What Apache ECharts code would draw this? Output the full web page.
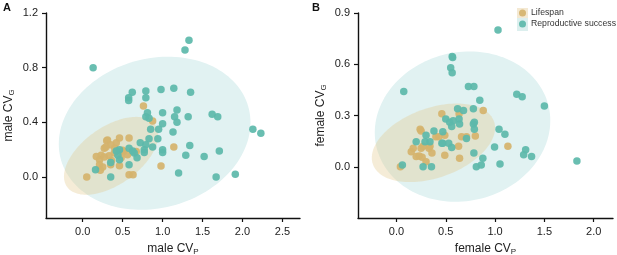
<!DOCTYPE html>
<html><head><meta charset="utf-8">
<script src="https://cdn.jsdelivr.net/npm/echarts@6/dist/echarts.min.js"></script>
<style>html,body{margin:0;padding:0;background:#fff}#c{width:617px;height:255px}</style>
</head><body><div id="c"></div>
<script>
// ---- data ----
const seriesNames = ['Lifespan', 'Reproductive success'];
const xTicksA = [0, 0.5, 1, 1.5, 2, 2.5];
const yTicksA = [0, 0.4, 0.8, 1.2];
const xTicksB = [0, 0.5, 1, 1.5, 2];
const yTicksB = [0, 0.3, 0.6, 0.9];

const maleLifespan = [
  [0.05,0.0],[0.31,0.27],[0.42,0.25],[0.46,0.285],[0.58,0.285],[0.30,0.265],[0.35,0.236],
  [0.27,0.21],[0.29,0.22],[0.23,0.16],[0.21,0.127],[0.27,0.146],[0.21,0.09],[0.33,0.156],
  [0.395,0.175],[0.51,0.187],[0.56,0.163],[0.50,0.195],[0.48,0.14],[0.46,0.083],[0.35,0.09],
  [0.25,0.073],[0.22,0.05],[0.17,0.15],[0.58,0.017],[0.63,0.017],[0.67,0.187],[0.76,0.52],
  [0.875,0.41],[1.14,0.22],[0.98,0.08],[0.36,0.12],[0.40,0.21]
];
const maleRepro = [
  [0.13,0.80],[1.33,1.0],[1.28,0.93],[1.14,0.65],[1.35,0.62],[0.98,0.64],[0.79,0.63],
  [0.62,0.62],[0.575,0.58],[0.575,0.56],[0.79,0.58],[1.18,0.49],[1.15,0.44],[1.18,0.40],
  [1.32,0.44],[1.62,0.46],[1.69,0.44],[2.13,0.35],[2.23,0.32],[1.0,0.47],[0.81,0.47],
  [0.79,0.44],[0.83,0.43],[1.0,0.39],[0.95,0.35],[0.85,0.35],[1.13,0.33],[0.94,0.28],
  [0.83,0.28],[0.72,0.25],[1.34,0.23],[1.29,0.16],[1.52,0.15],[1.71,0.19],[1.2,0.03],
  [1.67,0.0],[1.91,0.02],[1.0,0.2],[1.0,0.18],[0.875,0.22],[0.79,0.236],[0.77,0.2],
  [0.77,0.18],[0.645,0.175],[0.68,0.14],[0.58,0.21],[0.625,0.19],[0.58,0.09],[0.46,0.2],
  [0.44,0.16],[0.42,0.19],[0.46,0.127],[0.35,0.107],[0.35,0.0],[0.16,0.053]
];
const femaleLifespan = [
  [0.46,0.31],[0.635,0.31],[0.88,0.33],[0.24,0.22],[0.25,0.21],[0.43,0.175],[0.40,0.175],
  [0.49,0.185],[0.66,0.175],[0.71,0.175],[0.80,0.18],[1.13,0.12],[0.63,0.12],[0.49,0.068],
  [0.64,0.05],[0.25,0.108],[0.33,0.108],[0.17,0.108],[0.15,0.088],[0.23,0.063],[0.26,0.055],
  [0.04,0.0],[0.36,0.08],[0.27,0.12],[0.34,0.12],[0.30,0.03],[0.20,0.06]
];
const femaleRepro = [
  [1.03,0.80],[0.074,0.44],[0.57,0.64],[0.565,0.645],[0.55,0.58],[0.565,0.55],[0.73,0.47],
  [0.785,0.47],[0.845,0.39],[1.22,0.425],[1.275,0.41],[1.50,0.355],[0.62,0.34],[0.68,0.33],
  [0.78,0.34],[0.50,0.28],[0.54,0.26],[0.575,0.27],[0.635,0.28],[0.64,0.25],[0.56,0.235],
  [0.79,0.26],[0.78,0.25],[1.04,0.22],[0.38,0.21],[0.47,0.205],[0.30,0.185],[0.29,0.146],
  [0.34,0.146],[0.2,0.146],[0.47,0.137],[0.53,0.137],[0.56,0.113],[0.71,0.166],[0.79,0.22],
  [1.10,0.19],[0.995,0.115],[1.31,0.10],[1.29,0.07],[1.37,0.06],[0.785,0.08],[0.876,0.05],
  [0.81,0.0],[0.86,0.01],[1.05,0.016],[1.83,0.033],[0.06,0.01],[0.27,0.0],[0.355,0.0],[0.46,0.137]
];
// ellipse params: [centerX, centerY, sdX, sdY, correlation]
const ellipseMaleLifespan = [0.355, 0.155, 0.59, 0.285, 0.53];
const ellipseMaleRepro = [0.9, 0.32, 1.2, 0.56, 0.14];
const ellipseFemaleLifespan = [0.375, 0.14, 0.625, 0.23, 0.38];
const ellipseFemaleRepro = [0.67, 0.235, 0.89, 0.44, 0.08];

// ---- styles ----
const TAN = '#d5b36c', TEAL = '#5cb8aa';
const FONT = 'Liberation Sans';
const AX = '#111';

function xAxis(gi, min, max, ticks, name) {
  return {
    type: 'value', gridIndex: gi, min, max,
    axisLine: { show: true, onZero: false, lineStyle: { color: AX, width: 1.4 } },
    axisTick: { show: true, length: 4, customValues: ticks, lineStyle: { color: AX, width: 1.2 } },
    axisLabel: { customValues: ticks, formatter: v => v.toFixed(1), fontSize: 11, color: '#222', fontFamily: FONT, margin: 8 },
    splitLine: { show: false },
    name, nameLocation: 'middle', nameGap: 24,
    nameTextStyle: { fontSize: 12, color: '#222', fontFamily: FONT,
      rich: { s: { fontSize: 8, fontFamily: FONT, color: '#222', verticalAlign: 'bottom', lineHeight: 14 } } }
  };
}
function yAxis(gi, min, max, ticks, name) {
  return {
    type: 'value', gridIndex: gi, min, max,
    axisLine: { show: true, onZero: false, lineStyle: { color: AX, width: 1.4 } },
    axisTick: { show: true, length: 4, customValues: ticks, lineStyle: { color: AX, width: 1.2 } },
    axisLabel: { customValues: ticks, formatter: v => v.toFixed(1), fontSize: 11, color: '#222', fontFamily: FONT, margin: 8 },
    splitLine: { show: false },
    name, nameLocation: 'middle', nameGap: 30,
    nameTextStyle: { fontSize: 12, color: '#222', fontFamily: FONT,
      rich: { s: { fontSize: 8, fontFamily: FONT, color: '#222', verticalAlign: 'bottom', lineHeight: 14 } } }
  };
}
function ellipse(id, p, fill, gi) {
  return {
    type: 'custom', name: id, xAxisIndex: gi, yAxisIndex: gi, silent: true, z: 1,
    data: [p],
    renderItem: (params, api) => {
      const [cx, cy, sx, sy, r] = p;
      const pts = [];
      const q = Math.sqrt(1 - r * r);
      for (let i = 0; i < 144; i++) {
        const t = i / 144 * 2 * Math.PI;
        pts.push(api.coord([cx + sx * Math.cos(t), cy + sy * (r * Math.cos(t) + q * Math.sin(t))]));
      }
      return { type: 'polygon', shape: { points: pts }, style: { fill } };
    }
  };
}
function scatter(name, data, color, gi) {
  return {
    type: 'scatter', name, xAxisIndex: gi, yAxisIndex: gi, data, z: 3,
    symbolSize: 7.5, itemStyle: { color, opacity: 0.92 }
  };
}

const chart = echarts.init(document.getElementById('c'), null, { renderer: 'canvas' });
chart.setOption({
  animation: false,
  grid: [
    { left: 46, right: 317, top: 13, bottom: 37, outerBoundsMode: 'none', containLabel: false },
    { left: 358, right: 4, top: 13, bottom: 37, outerBoundsMode: 'none', containLabel: false }
  ],
  xAxis: [
    xAxis(0, -0.46, 2.72, xTicksA, 'male CV{s|P}'),
    xAxis(1, -0.39, 2.196, xTicksB, 'female CV{s|P}')
  ],
  yAxis: [
    yAxis(0, -0.3, 1.2, yTicksA, 'male CV{s|G}'),
    yAxis(1, -0.3, 0.9, yTicksB, 'female CV{s|G}')
  ],
  legend: {
    data: seriesNames, orient: 'vertical', left: 519, top: 8.5, padding: 0,
    itemWidth: 7, itemHeight: 7, itemGap: 2, icon: 'circle',
    textStyle: { fontSize: 8.7, color: '#333', fontFamily: FONT }
  },
  graphic: [
    { type: 'text', left: 3, top: 2, style: { text: 'A', font: 'bold 11px "Liberation Sans"', fill: '#111' } },
    { type: 'text', left: 312, top: 2, style: { text: 'B', font: 'bold 11px "Liberation Sans"', fill: '#111' } },
    { type: 'rect', z: -1, shape: { x: 517, y: 8, width: 11, height: 10 }, style: { fill: '#f4e9d3' } },
    { type: 'rect', z: -1, shape: { x: 517, y: 18, width: 11, height: 13 }, style: { fill: '#dcefee' } }
  ],
  series: [
    ellipse('e1', ellipseMaleRepro, '#e1f2f2', 0),
    ellipse('e2', ellipseMaleLifespan, 'rgba(226,200,141,0.35)', 0),
    ellipse('e3', ellipseFemaleRepro, '#e1f2f2', 1),
    ellipse('e4', ellipseFemaleLifespan, 'rgba(226,200,141,0.35)', 1),
    scatter(seriesNames[0], maleLifespan, TAN, 0),
    scatter(seriesNames[1], maleRepro, TEAL, 0),
    scatter(seriesNames[0], femaleLifespan, TAN, 1),
    scatter(seriesNames[1], femaleRepro, TEAL, 1)
  ]
});
</script></body></html>
